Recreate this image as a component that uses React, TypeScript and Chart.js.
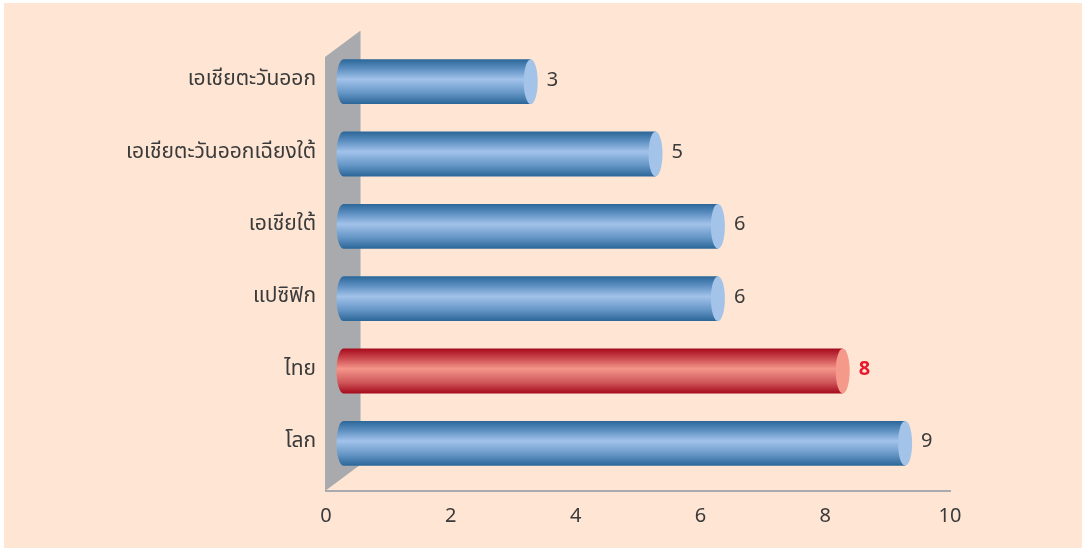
import React, { useEffect, useRef } from "react";
import { Chart, registerables } from "chart.js";

Chart.register(...registerables);

const categories = [
  "เอเชียตะวันออก",
  "เอเชียตะวันออกเฉียงใต้",
  "เอเชียใต้",
  "แปซิฟิก",
  "ไทย",
  "โลก",
];
const values = [3, 5, 6, 6, 8, 9];
const highlighted = ["ไทย"];
const xTicks = [0, 2, 4, 6, 8, 10];

const FONT = "'Noto Sans Thai', 'Noto Sans', 'DejaVu Sans', sans-serif";
const DEPTH_X = 35;
const DEPTH_Y = -26;

const cylinderPlugin = {
  id: "cylinder3d",
  beforeDatasetsDraw(chart: any) {
    const { ctx, chartArea, scales } = chart;
    const x0 = scales.x.getPixelForValue(0) - 1;
    ctx.save();
    ctx.fillStyle = "#A8AAAD";
    ctx.beginPath();
    ctx.moveTo(x0, chartArea.top);
    ctx.lineTo(x0 + DEPTH_X, chartArea.top + DEPTH_Y);
    ctx.lineTo(x0 + DEPTH_X, chartArea.bottom + DEPTH_Y);
    ctx.lineTo(x0, chartArea.bottom);
    ctx.closePath();
    ctx.fill();
    ctx.strokeStyle = "#C9C9C9";
    ctx.lineWidth = 1;
    ctx.beginPath();
    ctx.moveTo(x0 + DEPTH_X + 0.5, chartArea.top + DEPTH_Y);
    ctx.lineTo(x0 + DEPTH_X + 0.5, chartArea.bottom + DEPTH_Y);
    ctx.stroke();
    ctx.restore();
  },
  afterDatasetsDraw(chart: any) {
    const { ctx } = chart;
    const meta = chart.getDatasetMeta(0);
    const dx = DEPTH_X / 2;
    const dy = -11.5;
    meta.data.forEach((bar: any, i: number) => {
      const isHi = highlighted.includes(categories[i]);
      const cx0 = bar.base + dx;
      const cx1 = bar.x + dx;
      const cy = bar.y + dy;
      const ry = bar.height / 2;
      const rx = 7;
      ctx.save();
      const g = ctx.createLinearGradient(0, cy - ry, 0, cy + ry);
      if (isHi) {
        g.addColorStop(0, "#A50A1C");
        g.addColorStop(0.2, "#C9444A");
        g.addColorStop(0.45, "#F4958A");
        g.addColorStop(0.75, "#D0585A");
        g.addColorStop(1, "#A50A1C");
      } else {
        g.addColorStop(0, "#2B6698");
        g.addColorStop(0.2, "#5A8DBF");
        g.addColorStop(0.45, "#A2C2EA");
        g.addColorStop(0.75, "#6596C6");
        g.addColorStop(1, "#2B6698");
      }
      ctx.fillStyle = g;
      ctx.beginPath();
      ctx.moveTo(cx0, cy - ry);
      ctx.lineTo(cx1, cy - ry);
      ctx.lineTo(cx1, cy + ry);
      ctx.lineTo(cx0, cy + ry);
      ctx.ellipse(cx0, cy, rx, ry, 0, Math.PI / 2, (3 * Math.PI) / 2);
      ctx.closePath();
      ctx.fill();
      ctx.fillStyle = isHi ? "#F59A8A" : "#A3C3E8";
      ctx.beginPath();
      ctx.ellipse(cx1, cy, rx, ry, 0, 0, Math.PI * 2);
      ctx.fill();
      ctx.fillStyle = isHi ? "#E8192C" : "#3A3A3A";
      ctx.font = (isHi ? "bold " : "") + "20px " + FONT;
      ctx.textAlign = "left";
      ctx.textBaseline = "middle";
      ctx.fillText(String(values[i]), cx1 + rx + 9, cy);
      ctx.restore();
    });
  },
};

export default function App() {
  const ref = useRef<HTMLCanvasElement>(null);
  useEffect(() => {
    document.body.style.margin = "0";
    const chart = new Chart(ref.current!, {
      type: "bar",
      data: {
        labels: categories,
        datasets: [
          {
            data: values,
            backgroundColor: "rgba(0,0,0,0)",
            borderWidth: 0,
            categoryPercentage: 1,
            barPercentage: 0.62,
          },
        ],
      },
      options: {
        indexAxis: "y",
        animation: false,
        responsive: false,
        maintainAspectRatio: false,
        layout: { padding: { left: 0, right: 132, top: 57, bottom: 0 } },
        plugins: { legend: { display: false }, tooltip: { enabled: false } },
        scales: {
          x: {
            min: 0,
            max: 10,
            afterBuildTicks: (scale: any) => {
              scale.ticks = xTicks.map((v) => ({ value: v }));
            },
            afterFit: (scale: any) => {
              scale.height = 57;
            },
            grid: { display: false, drawTicks: false },
            border: { display: true, color: "#A8AAAD", width: 2 },
            ticks: {
              padding: 15,
              color: "#3A3A3A",
              font: { family: FONT, size: 20 },
            },
          },
          y: {
            afterFit: (scale: any) => {
              scale.width = 326;
            },
            grid: { display: false, drawTicks: false },
            border: { display: false },
            ticks: {
              padding: 10,
              labelOffset: -12,
              color: "#3A3A3A",
              font: { family: FONT, size: 21 },
            },
          },
        },
      },
      plugins: [cylinderPlugin],
    });
    return () => chart.destroy();
  }, []);
  return (
    <div
      style={{
        position: "absolute",
        left: 0,
        top: 0,
        width: 1082,
        height: 548,
        background: "#FFFFFF",
      }}
    >
      <div
        style={{
          position: "absolute",
          left: 4,
          top: 3,
          width: 1078,
          height: 545,
          background: "#FEE5D4",
        }}
      />
      <canvas
        ref={ref}
        width={1082}
        height={548}
        style={{ position: "absolute", left: 0, top: 0 }}
      />
    </div>
  );
}
